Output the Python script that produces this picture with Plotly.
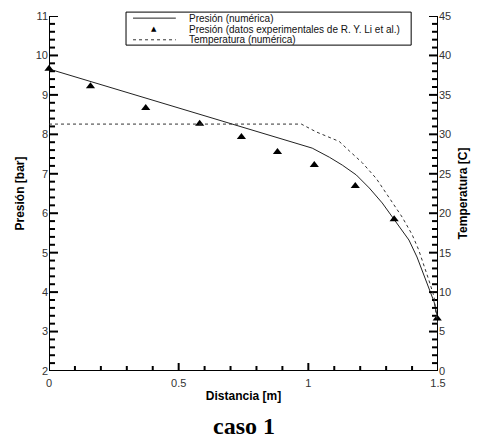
import plotly.graph_objects as go

# ---- data ----
dist_num = [0.0, 0.812, 0.938, 1.015, 1.081, 1.131, 1.185, 1.235, 1.285, 1.338,
            1.388, 1.419, 1.438, 1.465, 1.485, 1.5]
pres_num = [9.656, 8.06, 7.81, 7.65, 7.42, 7.22, 6.97, 6.64, 6.26, 5.78,
            5.32, 4.89, 4.56, 4.10, 3.75, 3.30]

dist_exp = [0.0, 0.16, 0.373, 0.581, 0.742, 0.881, 1.023, 1.181, 1.331, 1.497]
pres_exp = [9.66, 9.22, 8.67, 8.27, 7.93, 7.55, 7.22, 6.69, 5.85, 3.33]

dist_temp = [0.0, 0.973, 1.031, 1.119, 1.158, 1.208, 1.262, 1.312, 1.362, 1.40,
             1.425, 1.465, 1.485, 1.492, 1.5]
temp_num = [31.3, 31.3, 30.3, 29.1, 27.9, 26.4, 24.4, 22.0, 19.5, 17.3,
            15.4, 11.5, 9.4, 7.3, 6.0]

names = ["Presión (numérica)",
         "Presión (datos experimentales de R. Y. Li et al.)",
         "Temperatura (numérica)"]

x_ticks = [0, 0.5, 1, 1.5]
x_labels = ["0", "0.5", "1", "1.5"]
x_range = [0, 1.5]
p_range = [2, 11]
t_range = [0, 45]

FONT = "Liberation Sans, Arial, sans-serif"

# plot-area size in pixels (figure minus margins) -> tick lengths in data units
PLOT_W, PLOT_H = 389, 355
px_x = (x_range[1] - x_range[0]) / PLOT_W
px_p = (p_range[1] - p_range[0]) / PLOT_H
px_t = (t_range[1] - t_range[0]) / PLOT_H

fig = go.Figure()

# ---- frame (left, bottom, right) and inward tick marks as plain line traces ----
frame_x = [x_range[0], x_range[0], x_range[1], x_range[1]]
frame_y = [p_range[1], p_range[0], p_range[0], p_range[1]]
fig.add_trace(go.Scatter(x=frame_x, y=frame_y, mode="lines", showlegend=False,
                         hoverinfo="skip", cliponaxis=False,
                         line=dict(color="black", width=2)))

tx_, ty_ = [], []
for i in range(16):                      # x: major 0.5, minor 0.1
    v = x_range[0] + i * 0.1
    n = 8 if i % 5 == 0 else 5
    tx_ += [v, v, None]
    ty_ += [p_range[0], p_range[0] + n * px_p, None]
for i in range(46):                      # left: major 1, minor 0.2
    v = p_range[0] + i * 0.2
    n = 9 if i % 5 == 0 else 6
    tx_ += [x_range[0], x_range[0] + n * px_x, None]
    ty_ += [v, v, None]
fig.add_trace(go.Scatter(x=tx_, y=ty_, mode="lines", showlegend=False,
                         hoverinfo="skip", cliponaxis=False,
                         line=dict(color="black", width=2)))

rx_, ry_ = [], []
for i in range(46):                      # right: major 5, minor 1
    v = t_range[0] + i * 1.0
    n = 9 if i % 5 == 0 else 6
    rx_ += [x_range[1], x_range[1] - n * px_x, None]
    ry_ += [v, v, None]
fig.add_trace(go.Scatter(x=rx_, y=ry_, mode="lines", yaxis="y2", showlegend=False,
                         hoverinfo="skip", cliponaxis=False,
                         line=dict(color="black", width=2)))

# ---- data series ----
fig.add_trace(go.Scatter(x=dist_num, y=pres_num, mode="lines", name=names[0],
                         line=dict(color="#222", width=1), showlegend=False))
fig.add_trace(go.Scatter(x=dist_exp, y=pres_exp, mode="markers", name=names[1],
                         marker=dict(symbol="triangle-up", size=8, color="black"),
                         cliponaxis=False, showlegend=False))
fig.add_trace(go.Scatter(x=dist_temp, y=temp_num, mode="lines", name=names[2],
                         yaxis="y2", showlegend=False,
                         line=dict(color="#333", width=1, dash="3px,3px")))

tickfont = dict(family=FONT, size=11, color="#333")
title_font = dict(family=FONT, size=12, color="black")
ax_kw = dict(showline=False, showgrid=False, zeroline=False, ticks="",
             tickfont=tickfont)

# ---- hand-drawn legend (compact like the reference) ----
lx0, lx1, ly0, ly1 = 0.198, 0.931, 0.918, 1.011
row_y = [0.994, 0.963, 0.933]
sx0, sx1 = 0.216, 0.326
tx = 0.357
shapes = [
    dict(type="rect", xref="paper", yref="paper", x0=lx0, x1=lx1, y0=ly0, y1=ly1,
         line=dict(color="black", width=1), fillcolor="white", layer="above"),
    dict(type="line", xref="paper", yref="paper", x0=sx0, x1=sx1,
         y0=row_y[0], y1=row_y[0], line=dict(color="#222", width=1)),
    dict(type="line", xref="paper", yref="paper", x0=sx0, x1=sx1,
         y0=row_y[2], y1=row_y[2], line=dict(color="#333", width=1, dash="3px,3px")),
]
annotations = [dict(text="▲", xref="paper", yref="paper", x=(sx0 + sx1) / 2,
                    y=row_y[1], xanchor="center", yanchor="middle",
                    showarrow=False, borderpad=0,
                    font=dict(family="DejaVu Sans", size=7, color="black"))]
for name, yy in zip(names, row_y):
    annotations.append(dict(text=name, xref="paper", yref="paper", x=tx, y=yy,
                            xanchor="left", yanchor="middle", showarrow=False,
                            borderpad=0,
                            font=dict(family=FONT, size=10, color="#111")))
annotations.append(dict(text="<b>caso 1</b>", xref="paper", yref="paper",
                        x=0.5, y=-0.155, xanchor="center", yanchor="middle",
                        showarrow=False,
                        font=dict(family="Liberation Serif, Times New Roman, serif",
                                  size=24, color="black")))

fig.update_layout(
    template="none",
    width=484, height=439,
    margin=dict(l=49, r=46, t=16, b=68),
    paper_bgcolor="white", plot_bgcolor="white",
    showlegend=False,
    xaxis=dict(range=x_range, tickmode="array", tickvals=x_ticks, ticktext=x_labels,
               ticklabelstandoff=4,
               title=dict(text="<b>Distancia [m]</b>", standoff=3, font=title_font),
               **ax_kw),
    yaxis=dict(range=p_range, tickmode="linear", tick0=2, dtick=1,
               title=dict(text="<b>Presión [bar]</b>", standoff=8, font=title_font),
               **ax_kw),
    yaxis2=dict(range=t_range, tickmode="linear", tick0=0, dtick=5,
                side="right", overlaying="y", anchor="x",
                title=dict(text="<b>Temperatura [C]</b>", standoff=8,
                           font=title_font),
                **ax_kw),
    shapes=shapes,
    annotations=annotations,
)

fig.write_html("out.html")
